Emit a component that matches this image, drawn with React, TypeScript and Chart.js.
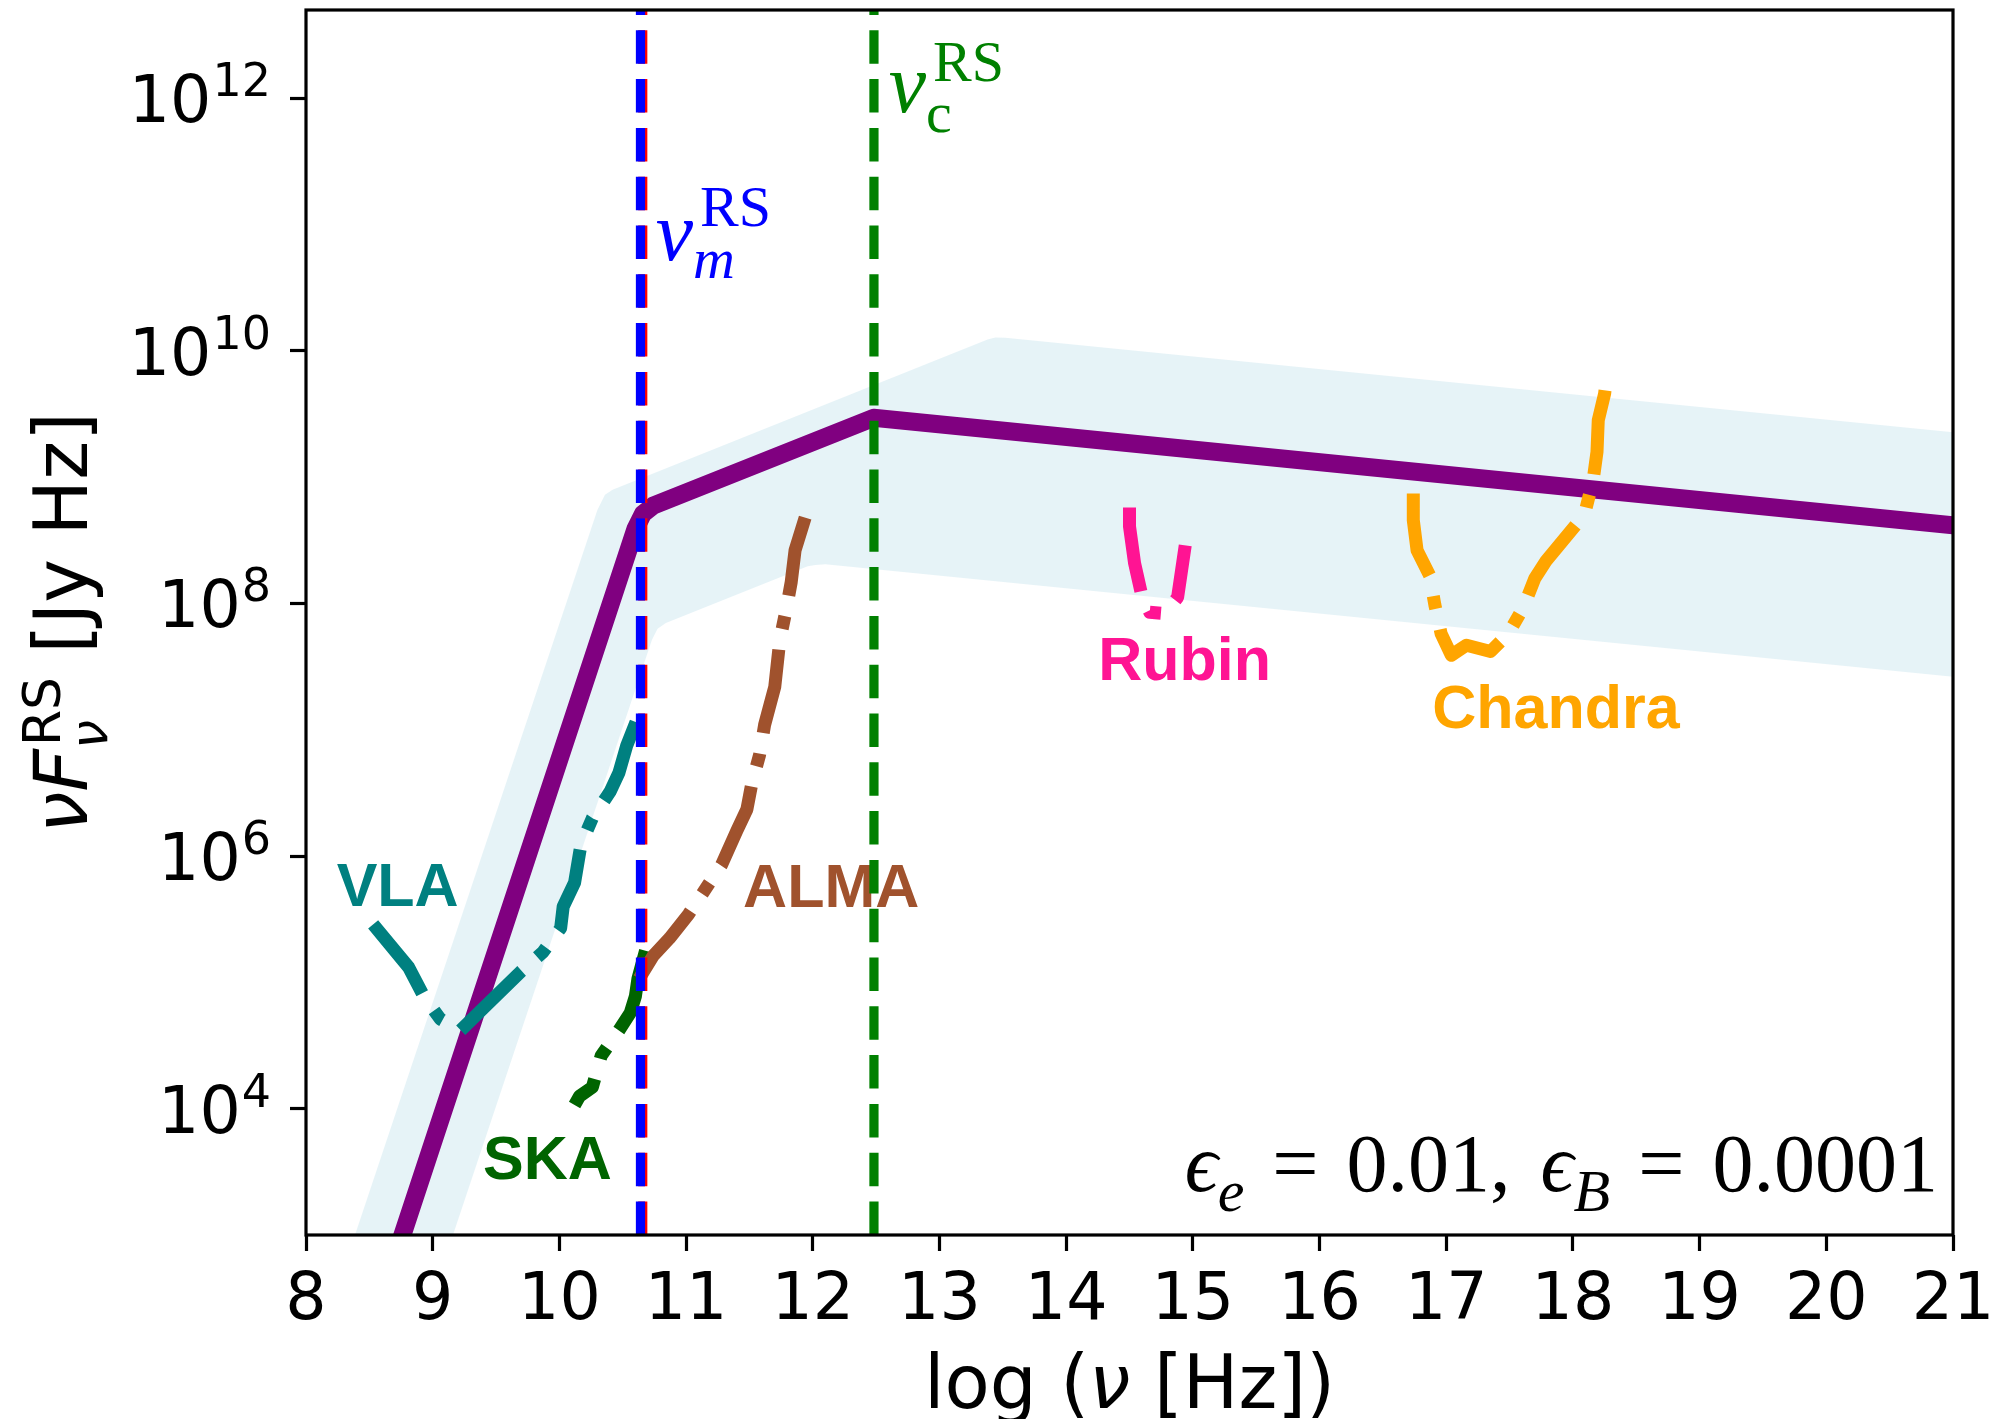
import React, { useEffect, useRef } from "react";
import { Chart, registerables } from "chart.js";

Chart.register(...registerables);

// ---- axes ----
const X_MIN = 8;
const X_MAX = 21;
const Y_MIN = 1e3;
const Y_MAX = 5e12;
const X_TICKS = [8, 9, 10, 11, 12, 13, 14, 15, 16, 17, 18, 19, 20, 21];
const Y_TICK_EXPONENTS = [4, 6, 8, 10, 12];

// ---- characteristic frequencies, log10(nu / Hz) ----
const NU_A_LOG = 10.658;
const NU_M_LOG = 10.64;
const NU_C_LOG = 12.483;

// ---- reverse-shock spectrum: log10(nu), log10(nu F_nu) ----
const spectrumLogNu = [8.6, 10.6, 10.66, 10.74, 12.48, 21.0];
const spectrumLogFlux = [2.51, 8.59, 8.71, 8.774, 9.47, 8.62];

// ---- uncertainty band outline: upper edge left->right, lower edge right->left ----
const bandLogNu = [8.25, 10.3, 10.36, 10.42, 13.38, 13.44, 13.52, 21.0, 21.0, 12.1, 12.02, 11.96, 10.84, 10.775, 10.73, 8.95];
const bandLogFlux = [2.59, 8.74, 8.86, 8.9, 10.09, 10.105, 10.104, 9.356, 7.42, 8.31, 8.305, 8.294, 7.846, 7.8, 7.71, 2.37];

// ---- instrument sensitivity curves ----
const vlaLogNu = [8.53, 8.81, 8.93, 9.06, 9.22, 9.69, 9.87, 10.01, 10.03, 10.12, 10.17, 10.26, 10.4, 10.47, 10.53, 10.64];
const vlaLogFlux = [5.46, 5.12, 4.89, 4.71, 4.62, 5.08, 5.24, 5.43, 5.6, 5.79, 6.09, 6.3, 6.51, 6.66, 6.87, 7.15];

const skaLogNu = [10.68, 10.62, 10.6, 10.56, 10.47, 10.33, 10.26, 10.16, 10.12];
const skaLogFlux = [5.25, 5.03, 4.89, 4.76, 4.62, 4.42, 4.17, 4.1, 4.03];

const almaLogNu = [10.63, 10.74, 10.87, 11.02, 11.16, 11.28, 11.4, 11.48, 11.52, 11.58, 11.62, 11.7, 11.74, 11.79, 11.83, 11.86, 11.94];
const almaLogFlux = [5.03, 5.21, 5.35, 5.54, 5.75, 5.93, 6.2, 6.37, 6.58, 6.8, 7.04, 7.34, 7.71, 7.95, 8.17, 8.42, 8.68];

const rubinLogNu = [14.5, 14.5, 14.54, 14.6, 14.66, 14.78, 14.88, 14.94];
const rubinLogFlux = [8.76, 8.61, 8.32, 8.05, 7.93, 7.92, 8.05, 8.46];

const chandraLogNu = [16.74, 16.74, 16.77, 16.87, 16.91, 16.96, 17.04, 17.16, 17.35, 17.49, 17.61, 17.7, 17.79, 18.03, 18.1, 18.16, 18.19, 18.2, 18.25, 18.27];
const chandraLogFlux = [8.87, 8.66, 8.42, 8.22, 7.99, 7.76, 7.59, 7.67, 7.62, 7.76, 7.97, 8.2, 8.34, 8.63, 8.74, 8.98, 9.2, 9.45, 9.66, 9.82];

// ---- instrument labels ----
const instrumentNames = ["VLA", "SKA", "ALMA", "Rubin", "Chandra"];
const instrumentColors = ["#008080", "#006400", "#a0522d", "#ff1493", "#ffa500"];
const instrumentLabelLogNu = [8.242, 9.397, 11.45, 14.253, 16.89];
const instrumentLabelLogFlux = [5.604, 3.445, 5.6, 7.395, 7.013];

// ---- styling ----
const W = 2000;
const H = 1419;
const SANS = '"DejaVu Sans", sans-serif';
const SERIF = '"Liberation Serif", "DejaVu Serif", serif';
const LABEL_FONT = 'bold 61px "Liberation Sans", Arial, sans-serif';
const INSTR_DASH = [85, 21, 13, 21];
const INSTR_WIDTH = 13;
const VLINE_DASH = [33.5, 15.3];
const VLINE_WIDTH = 9.2;

const pts = (xs: number[], logs: number[]) => xs.map((x, i) => ({ x, y: Math.pow(10, logs[i]) }));
const vline = (x: number) => [
  { x, y: Y_MIN },
  { x, y: Y_MAX },
];

type Seg = { t: string; f: string; dy?: number; dx?: number };
type Item = Seg | { stack: Seg[] } | { gap: number };

function itemWidth(ctx: CanvasRenderingContext2D, it: Item): number {
  if ("gap" in it) return it.gap;
  if ("stack" in it) {
    return Math.max(
      ...it.stack.map((s) => {
        ctx.font = s.f;
        return (s.dx ?? 0) + ctx.measureText(s.t).width;
      })
    );
  }
  ctx.font = it.f;
  return ctx.measureText(it.t).width;
}

function drawRun(ctx: CanvasRenderingContext2D, items: Item[], x: number, y: number, align: "left" | "center" | "right") {
  const total = items.reduce((w, it) => w + itemWidth(ctx, it), 0);
  let cx = align === "left" ? x : align === "right" ? x - total : x - total / 2;
  ctx.textAlign = "left";
  ctx.textBaseline = "alphabetic";
  for (const it of items) {
    const w = itemWidth(ctx, it);
    if ("stack" in it) {
      for (const s of it.stack) {
        ctx.font = s.f;
        ctx.fillText(s.t, cx + (s.dx ?? 0), y + (s.dy ?? 0));
      }
    } else if (!("gap" in it)) {
      ctx.font = it.f;
      ctx.fillText(it.t, cx + (it.dx ?? 0), y + (it.dy ?? 0));
    }
    cx += w;
  }
}

const annotationPlugin = {
  id: "sedAnnotations",
  beforeDatasetsDraw(chart: any) {
    const { ctx, scales } = chart;
    ctx.save();
    ctx.font = LABEL_FONT;
    ctx.textAlign = "left";
    ctx.textBaseline = "alphabetic";
    instrumentNames.forEach((name, i) => {
      ctx.fillStyle = instrumentColors[i];
      ctx.fillText(
        name,
        scales.x.getPixelForValue(instrumentLabelLogNu[i]),
        scales.y.getPixelForValue(Math.pow(10, instrumentLabelLogFlux[i]))
      );
    });
    ctx.restore();
  },
  afterDatasetsDraw(chart: any) {
    const { ctx, chartArea: a } = chart;
    ctx.save();
    ctx.strokeStyle = "#000";
    ctx.lineWidth = 3.2;
    ctx.setLineDash([]);
    ctx.strokeRect(a.left, a.top, a.right - a.left, a.bottom - a.top);
    ctx.restore();
  },
  afterDraw(chart: any) {
    const { ctx, chartArea: a, scales } = chart;
    const xs = scales.x;
    const ys = scales.y;
    ctx.save();
    ctx.fillStyle = "#000";

    // x tick labels
    ctx.font = `65px ${SANS}`;
    ctx.textAlign = "center";
    ctx.textBaseline = "alphabetic";
    X_TICKS.forEach((v) => ctx.fillText(String(v), xs.getPixelForValue(v), a.bottom + 84));

    // y tick labels: 10^n
    Y_TICK_EXPONENTS.forEach((e) => {
      const py = ys.getPixelForValue(Math.pow(10, e));
      const right = a.left - 35;
      const base = py + 24;
      ctx.textAlign = "right";
      ctx.font = `46px ${SANS}`;
      const supW = ctx.measureText(String(e)).width;
      ctx.fillText(String(e), right, base - 26);
      ctx.font = `65px ${SANS}`;
      ctx.fillText("10", right - supW - 1, base);
    });

    // x axis title
    drawRun(
      ctx,
      [
        { t: "log (", f: `74px ${SANS}` },
        { t: "ν", f: `italic 74px ${SANS}` },
        { t: " [Hz])", f: `74px ${SANS}` },
      ],
      (a.left + a.right) / 2,
      1408,
      "center"
    );

    // y axis title
    ctx.save();
    ctx.translate(87, (a.top + a.bottom) / 2);
    ctx.rotate(-Math.PI / 2);
    drawRun(
      ctx,
      [
        { t: "ν", f: `italic 74px ${SANS}` },
        { t: "F", f: `italic 74px ${SANS}` },
        {
          stack: [
            { t: "ν", f: `italic 52px ${SANS}`, dy: 20 },
            { t: "RS", f: `52px ${SANS}`, dy: -27, dx: 3 },
          ],
        },
        { t: " [Jy Hz]", f: `74px ${SANS}` },
      ],
      0,
      0,
      "center"
    );
    ctx.restore();

    // break-frequency labels
    ctx.fillStyle = "#0000ff";
    drawRun(
      ctx,
      [
        { t: "ν", f: `italic 84px ${SERIF}` },
        {
          stack: [
            { t: "m", f: `italic 58px ${SERIF}`, dy: 18 },
            { t: "RS", f: `58px ${SERIF}`, dy: -34, dx: 7 },
          ],
        },
      ],
      xs.getPixelForValue(10.76),
      ys.getPixelForValue(Math.pow(10, 10.72)),
      "left"
    );
    ctx.fillStyle = "#008000";
    drawRun(
      ctx,
      [
        { t: "ν", f: `italic 84px ${SERIF}` },
        {
          stack: [
            { t: "c", f: `58px ${SERIF}`, dy: 20 },
            { t: "RS", f: `58px ${SERIF}`, dy: -31, dx: 7 },
          ],
        },
      ],
      xs.getPixelForValue(12.6),
      ys.getPixelForValue(Math.pow(10, 11.895)),
      "left"
    );

    // microphysics parameters
    ctx.fillStyle = "#000";
    const it81 = `italic 82px ${SERIF}`;
    const it57 = `italic 60px ${SERIF}`;
    const up81 = `82px ${SERIF}`;
    drawRun(
      ctx,
      [
        { t: "ϵ", f: it81 },
        { t: "e", f: it57, dy: 20 },
        { gap: 28 },
        { t: "=", f: up81 },
        { gap: 28 },
        { t: "0.01,", f: up81 },
        { gap: 30 },
        { t: "ϵ", f: it81 },
        { t: "B", f: it57, dy: 20 },
        { gap: 28 },
        { t: "=", f: up81 },
        { gap: 28 },
        { t: "0.0001", f: up81 },
      ],
      a.right - 15,
      a.bottom - 44,
      "right"
    );
    ctx.restore();
  },
};

export default function App() {
  const canvasRef = useRef<HTMLCanvasElement | null>(null);

  useEffect(() => {
    const canvas = canvasRef.current;
    if (!canvas) return;

    const common = {
      pointRadius: 0,
      pointHoverRadius: 0,
      tension: 0,
      clip: 0,
      borderJoinStyle: "round",
      borderCapStyle: "butt",
      fill: false,
    };
    const instrument = (xs: number[], ls: number[], color: string, order: number) => ({
      ...common,
      data: pts(xs, ls),
      borderColor: color,
      borderWidth: INSTR_WIDTH,
      borderDash: INSTR_DASH,
      order,
    });
    const marker = (x: number, color: string, order: number) => ({
      ...common,
      data: vline(x),
      borderColor: color,
      borderWidth: VLINE_WIDTH,
      borderDash: VLINE_DASH,
      order,
    });

    const chart = new Chart(canvas, {
      type: "line",
      data: {
        datasets: [
          {
            ...common,
            data: pts(bandLogNu, bandLogFlux),
            borderColor: "rgba(0,0,0,0)",
            borderWidth: 1,
            backgroundColor: "rgba(173,216,230,0.3)",
            fill: "shape",
            order: 9,
          },
          {
            ...common,
            data: pts(spectrumLogNu, spectrumLogFlux),
            borderColor: "#800080",
            borderWidth: 18,
            order: 8,
          },
          instrument(vlaLogNu, vlaLogFlux, "#008080", 7),
          instrument(skaLogNu, skaLogFlux, "#006400", 6),
          instrument(almaLogNu, almaLogFlux, "#a0522d", 5),
          instrument(rubinLogNu, rubinLogFlux, "#ff1493", 4),
          instrument(chandraLogNu, chandraLogFlux, "#ffa500", 3),
          marker(NU_A_LOG, "#ff0000", 2),
          marker(NU_M_LOG, "#0000ff", 1),
          marker(NU_C_LOG, "#008000", 0),
        ] as any,
      },
      options: {
        responsive: false,
        animation: false,
        devicePixelRatio: 1,
        events: [],
        layout: { padding: { left: 290, right: 47, top: 10, bottom: 168 } },
        plugins: {
          legend: { display: false },
          tooltip: { enabled: false },
        },
        scales: {
          x: {
            type: "linear",
            min: X_MIN,
            max: X_MAX,
            afterBuildTicks: (axis: any) => {
              axis.ticks = X_TICKS.map((v) => ({ value: v }));
            },
            afterFit: (axis: any) => {
              axis.height = 16;
            },
            ticks: { display: false, autoSkip: false },
            grid: { drawOnChartArea: false, drawTicks: true, tickLength: 16, tickWidth: 3.2, tickColor: "#000" },
            border: { display: false },
          },
          y: {
            type: "logarithmic",
            min: Y_MIN,
            max: Y_MAX,
            afterBuildTicks: (axis: any) => {
              axis.ticks = Y_TICK_EXPONENTS.map((e) => ({ value: Math.pow(10, e) }));
            },
            afterFit: (axis: any) => {
              axis.width = 16;
            },
            ticks: { display: false, autoSkip: false },
            grid: { drawOnChartArea: false, drawTicks: true, tickLength: 16, tickWidth: 3.2, tickColor: "#000" },
            border: { display: false },
          },
        },
      } as any,
      plugins: [annotationPlugin],
    });

    return () => chart.destroy();
  }, []);

  return (
    <div style={{ position: "fixed", left: 0, top: 0, width: W, height: H, background: "#fff" }}>
      <canvas ref={canvasRef} width={W} height={H} style={{ display: "block", width: W, height: H }} />
    </div>
  );
}
